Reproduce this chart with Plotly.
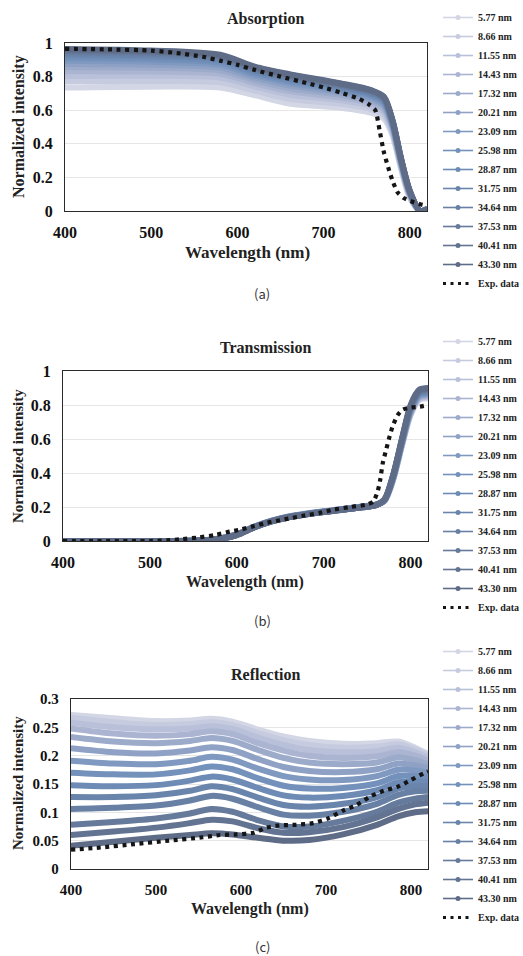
import plotly.graph_objects as go

# ---------------- data ----------------
SERIES = ["5.77 nm", "8.66 nm", "11.55 nm", "14.43 nm", "17.32 nm", "20.21 nm", "23.09 nm",
          "25.98 nm", "28.87 nm", "31.75 nm", "34.64 nm", "37.53 nm", "40.41 nm", "43.30 nm"]
COLORS = ["#d3d6e4", "#c6cbdf", "#b9c0d9", "#abb5d2", "#9dabcb", "#8fa2c5", "#8099c0",
          "#7391bb", "#6d8bb5", "#6a85ac", "#6880a4", "#667a9b", "#637392", "#5f6c87"]

# Absorption
WL_ABS = [400, 500, 580, 620, 660, 720, 755, 770, 780, 790, 800, 812, 820]
ABS = [
    [0.735, 0.740, 0.735, 0.690, 0.640, 0.615, 0.585, 0.550, 0.450, 0.250, 0.080, 0.000, 0.010],
    [0.772, 0.774, 0.766, 0.717, 0.668, 0.638, 0.607, 0.571, 0.464, 0.260, 0.086, 0.000, 0.010],
    [0.804, 0.805, 0.794, 0.741, 0.693, 0.659, 0.626, 0.589, 0.477, 0.268, 0.092, 0.000, 0.010],
    [0.832, 0.830, 0.817, 0.761, 0.714, 0.676, 0.642, 0.605, 0.488, 0.275, 0.097, 0.000, 0.010],
    [0.855, 0.852, 0.836, 0.778, 0.731, 0.690, 0.655, 0.618, 0.497, 0.281, 0.101, 0.000, 0.010],
    [0.875, 0.871, 0.854, 0.794, 0.747, 0.704, 0.667, 0.629, 0.505, 0.287, 0.104, 0.000, 0.010],
    [0.894, 0.888, 0.870, 0.807, 0.761, 0.715, 0.678, 0.640, 0.512, 0.291, 0.108, 0.000, 0.010],
    [0.910, 0.903, 0.883, 0.819, 0.773, 0.725, 0.688, 0.649, 0.518, 0.296, 0.110, 0.000, 0.010],
    [0.924, 0.916, 0.895, 0.829, 0.784, 0.734, 0.696, 0.657, 0.524, 0.299, 0.113, 0.000, 0.010],
    [0.935, 0.927, 0.905, 0.838, 0.792, 0.741, 0.703, 0.663, 0.528, 0.302, 0.115, 0.000, 0.010],
    [0.944, 0.936, 0.913, 0.845, 0.799, 0.747, 0.708, 0.668, 0.532, 0.305, 0.116, 0.000, 0.010],
    [0.952, 0.943, 0.919, 0.851, 0.805, 0.752, 0.713, 0.673, 0.535, 0.307, 0.118, 0.000, 0.010],
    [0.959, 0.950, 0.925, 0.856, 0.811, 0.756, 0.717, 0.677, 0.538, 0.309, 0.119, 0.000, 0.010],
    [0.965, 0.955, 0.930, 0.860, 0.815, 0.760, 0.720, 0.680, 0.540, 0.310, 0.120, 0.000, 0.010],
]
EXP_ABS_WL = [400, 450, 500, 530, 560, 580, 600, 620, 650, 680, 700, 720, 740, 752, 760, 765,
              770, 775, 780, 786, 793, 803, 812, 820]
EXP_ABS = [0.965, 0.962, 0.955, 0.940, 0.918, 0.895, 0.870, 0.840, 0.800, 0.762, 0.735, 0.705,
           0.670, 0.637, 0.600, 0.480, 0.350, 0.260, 0.180, 0.110, 0.077, 0.055, 0.040, 0.030]

# Transmission
WL_TR = [400, 500, 560, 580, 600, 620, 640, 660, 700, 740, 760, 770, 780, 790, 800, 810, 820]
TR = [
    [0, 0, 0.003, 0.015, 0.040, 0.085, 0.120, 0.145, 0.175, 0.200, 0.215, 0.235, 0.360, 0.560, 0.740, 0.830, 0.840],
    [0, 0, 0.003, 0.015, 0.040, 0.085, 0.120, 0.145, 0.175, 0.200, 0.215, 0.236, 0.362, 0.563, 0.745, 0.835, 0.845],
    [0, 0, 0.003, 0.015, 0.039, 0.084, 0.119, 0.144, 0.174, 0.199, 0.214, 0.237, 0.365, 0.566, 0.749, 0.839, 0.849],
    [0, 0, 0.003, 0.014, 0.039, 0.084, 0.119, 0.144, 0.174, 0.199, 0.214, 0.237, 0.367, 0.569, 0.754, 0.844, 0.854],
    [0, 0, 0.003, 0.014, 0.038, 0.083, 0.118, 0.143, 0.173, 0.198, 0.213, 0.238, 0.369, 0.572, 0.758, 0.848, 0.858],
    [0, 0, 0.003, 0.014, 0.038, 0.083, 0.118, 0.143, 0.173, 0.198, 0.213, 0.239, 0.372, 0.575, 0.763, 0.853, 0.863],
    [0, 0, 0.003, 0.014, 0.038, 0.083, 0.118, 0.143, 0.173, 0.198, 0.213, 0.240, 0.374, 0.578, 0.768, 0.858, 0.868],
    [0, 0, 0.003, 0.013, 0.037, 0.082, 0.117, 0.142, 0.172, 0.197, 0.212, 0.240, 0.376, 0.582, 0.772, 0.862, 0.872],
    [0, 0, 0.003, 0.013, 0.037, 0.082, 0.117, 0.142, 0.172, 0.197, 0.212, 0.241, 0.378, 0.585, 0.777, 0.867, 0.877],
    [0, 0, 0.003, 0.013, 0.037, 0.082, 0.117, 0.142, 0.172, 0.197, 0.212, 0.242, 0.381, 0.588, 0.782, 0.872, 0.882],
    [0, 0, 0.003, 0.013, 0.036, 0.081, 0.116, 0.141, 0.171, 0.196, 0.211, 0.243, 0.383, 0.591, 0.786, 0.876, 0.886],
    [0, 0, 0.003, 0.012, 0.036, 0.081, 0.116, 0.141, 0.171, 0.196, 0.211, 0.243, 0.385, 0.594, 0.791, 0.881, 0.891],
    [0, 0, 0.003, 0.012, 0.035, 0.080, 0.115, 0.140, 0.170, 0.195, 0.210, 0.244, 0.388, 0.597, 0.795, 0.885, 0.895],
    [0, 0, 0.003, 0.012, 0.035, 0.080, 0.115, 0.140, 0.170, 0.195, 0.210, 0.245, 0.390, 0.600, 0.800, 0.890, 0.900],
]
EXP_TR_WL = [400, 500, 520, 535, 555, 575, 592, 605, 620, 635, 655, 675, 695, 712, 730, 750,
             757, 762, 765, 768, 772, 775, 779, 785, 791, 800, 810, 820]
EXP_TR = [0.0, 0.0, 0.004, 0.010, 0.020, 0.035, 0.055, 0.068, 0.088, 0.108, 0.127, 0.147, 0.165,
          0.185, 0.200, 0.215, 0.232, 0.290, 0.360, 0.460, 0.540, 0.600, 0.670, 0.740, 0.773,
          0.785, 0.790, 0.800]

# Reflection
WL_REF = [400, 450, 500, 540, 565, 590, 620, 650, 680, 720, 760, 785, 805, 820]
REF = [
    [0.272, 0.266, 0.261, 0.262, 0.265, 0.260, 0.246, 0.234, 0.226, 0.221, 0.222, 0.225, 0.214, 0.203],
    [0.267, 0.259, 0.254, 0.256, 0.259, 0.254, 0.240, 0.227, 0.219, 0.214, 0.216, 0.220, 0.211, 0.200],
    [0.258, 0.250, 0.246, 0.248, 0.252, 0.247, 0.232, 0.219, 0.210, 0.206, 0.208, 0.214, 0.206, 0.196],
    [0.248, 0.239, 0.235, 0.238, 0.243, 0.238, 0.222, 0.209, 0.200, 0.196, 0.199, 0.206, 0.200, 0.191],
    [0.233, 0.225, 0.222, 0.226, 0.231, 0.226, 0.210, 0.196, 0.188, 0.185, 0.188, 0.197, 0.192, 0.185],
    [0.213, 0.206, 0.204, 0.209, 0.215, 0.210, 0.194, 0.180, 0.173, 0.171, 0.176, 0.186, 0.183, 0.178],
    [0.191, 0.186, 0.185, 0.191, 0.198, 0.193, 0.177, 0.164, 0.158, 0.157, 0.164, 0.175, 0.174, 0.170],
    [0.170, 0.167, 0.167, 0.174, 0.181, 0.176, 0.160, 0.147, 0.142, 0.143, 0.151, 0.164, 0.164, 0.162],
    [0.148, 0.146, 0.148, 0.156, 0.163, 0.158, 0.143, 0.130, 0.126, 0.129, 0.139, 0.153, 0.155, 0.154],
    [0.127, 0.127, 0.130, 0.138, 0.146, 0.141, 0.126, 0.113, 0.110, 0.115, 0.127, 0.142, 0.146, 0.146],
    [0.106, 0.108, 0.112, 0.121, 0.129, 0.124, 0.109, 0.096, 0.094, 0.101, 0.115, 0.131, 0.137, 0.138],
    [0.078, 0.083, 0.089, 0.098, 0.106, 0.101, 0.086, 0.075, 0.075, 0.085, 0.101, 0.117, 0.124, 0.127],
    [0.060, 0.066, 0.073, 0.081, 0.087, 0.084, 0.072, 0.064, 0.065, 0.074, 0.091, 0.106, 0.114, 0.117],
    [0.041, 0.048, 0.055, 0.060, 0.063, 0.061, 0.055, 0.050, 0.051, 0.061, 0.078, 0.093, 0.100, 0.102],
]
EXP_REF_WL = [400, 435, 475, 515, 555, 575, 595, 615, 630, 645, 665, 685, 702, 720, 736, 752,
              768, 784, 800, 815, 820]
EXP_REF = [0.034, 0.038, 0.044, 0.050, 0.056, 0.060, 0.061, 0.064, 0.073, 0.077, 0.078, 0.081,
           0.089, 0.103, 0.113, 0.128, 0.138, 0.145, 0.157, 0.169, 0.172]

X_TICKS = [400, 500, 600, 700, 800]
TITLES = ["Absorption", "Transmission", "Reflection"]
PANEL_LABELS = ["(a)", "(b)", "(c)"]

# ---------------- layout geometry (page pixels) ----------------
W, H = 523, 956
SERIF = "Liberation Serif"


def px_x(p):
    return p / W


def px_y(p):
    return 1 - p / H


fig = go.Figure()

panels = [
    dict(wl=WL_ABS, data=ABS, ewl=EXP_ABS_WL, edata=EXP_ABS, xa="x", ya="y", leg="legend"),
    dict(wl=WL_TR, data=TR, ewl=EXP_TR_WL, edata=EXP_TR, xa="x2", ya="y2", leg="legend2"),
    dict(wl=WL_REF, data=REF, ewl=EXP_REF_WL, edata=EXP_REF, xa="x3", ya="y3", leg="legend3"),
]

for p in panels:
    for name, col, vals in zip(SERIES, COLORS, p["data"]):
        fig.add_trace(go.Scatter(
            x=p["wl"], y=vals, mode="lines+markers", name=name,
            line=dict(color=col, width=6, shape="spline", smoothing=0.8),
            marker=dict(color=col, size=5),
            xaxis=p["xa"], yaxis=p["ya"], showlegend=False, hoverinfo="skip"))
    fig.add_trace(go.Scatter(
        x=p["ewl"], y=p["edata"], mode="lines", name="Exp. data",
        line=dict(color="#151515", width=4.2, dash="4px,4.6px", shape="spline", smoothing=0.6),
        xaxis=p["xa"], yaxis=p["ya"], showlegend=False, hoverinfo="skip"))
    # legend entries (thin style like the original legend)
    for name, col in zip(SERIES, COLORS):
        fig.add_trace(go.Scatter(
            x=[None], y=[None], mode="lines+markers", name=name,
            line=dict(color=col, width=1.6), marker=dict(color=col, size=5),
            xaxis=p["xa"], yaxis=p["ya"], legend=p["leg"], showlegend=True))
    fig.add_trace(go.Scatter(
        x=[None], y=[None], mode="lines", name="Exp. data",
        line=dict(color="#151515", width=3.2, dash="3px,4.5px"),
        xaxis=p["xa"], yaxis=p["ya"], legend=p["leg"], showlegend=True))

# axis domains in page pixels: (left, right, top, bottom)
boxes = [(65, 427, 43, 211), (63, 428, 371, 541), (71, 428, 699, 869)]
yranges = [[0, 1], [0, 1], [0, 0.3]]
ydticks = [0.2, 0.2, 0.05]
tick_sizes = [16, 16, 15]

axis_common = dict(showline=True, linecolor="#2a2a2a", linewidth=1.3, mirror=True,
                   zeroline=False, ticks="", color="#111", automargin=False)

layout = dict(width=W, height=H, margin=dict(l=0, r=0, t=0, b=0, autoexpand=False),
              paper_bgcolor="white", plot_bgcolor="white", showlegend=True)

for i, (l, r, t, b) in enumerate(boxes):
    sfx = "" if i == 0 else str(i + 1)
    layout["xaxis" + sfx] = dict(
        domain=[px_x(l), px_x(r)], range=[400, 820], tickvals=X_TICKS,
        showgrid=False, anchor="y" + sfx, ticklabelstandoff=7,
        tickfont=dict(family=SERIF, size=tick_sizes[i], weight=700, color="#111"),
        **axis_common)
    layout["yaxis" + sfx] = dict(
        domain=[px_y(b), px_y(t)], range=yranges[i], dtick=ydticks[i], tick0=0,
        showgrid=True, gridcolor="#e6e6e6", gridwidth=1, anchor="x" + sfx,
        ticklabelstandoff=8,
        tickfont=dict(family=SERIF, size=tick_sizes[i], weight=700, color="#111"),
        **axis_common)

legend_tops = [3, 327, 637]
for i, top in enumerate(legend_tops):
    key = "legend" if i == 0 else "legend" + str(i + 1)
    layout[key] = dict(x=px_x(438), xanchor="left", y=px_y(top), yanchor="top",
                       bgcolor="rgba(0,0,0,0)", borderwidth=0, itemwidth=30,
                       font=dict(family=SERIF, size=10, weight=700, color="#222"),
                       tracegroupgap=0)

ann = []
title_pos = [(265, 19), (265.5, 347), (265, 674)]
xtitle_pos = [(247, 252), (245, 582), (249.5, 909)]
ytitle_pos = [(19, 127), (18, 456), (18, 783)]
ytitle_size = [16, 15, 15]
xtitle_size = [17, 16, 16]
label_pos = [(262, 293), (262, 620), (262, 946)]
for i in range(3):
    ann.append(dict(text=TITLES[i], x=px_x(title_pos[i][0]), y=px_y(title_pos[i][1]),
                    xref="paper", yref="paper", showarrow=False, xanchor="center", yanchor="middle",
                    font=dict(family=SERIF, size=16, weight=700, color="#222")))
    ann.append(dict(text="Wavelength (nm)", x=px_x(xtitle_pos[i][0]), y=px_y(xtitle_pos[i][1]),
                    xref="paper", yref="paper", showarrow=False, xanchor="center", yanchor="middle",
                    font=dict(family=SERIF, size=xtitle_size[i], weight=700, color="#222")))
    ann.append(dict(text="Normalized intensity", x=px_x(ytitle_pos[i][0]), y=px_y(ytitle_pos[i][1]),
                    xref="paper", yref="paper", showarrow=False, xanchor="center", yanchor="middle",
                    textangle=-90,
                    font=dict(family=SERIF, size=ytitle_size[i], weight=700, color="#222")))
    ann.append(dict(text=PANEL_LABELS[i], x=px_x(label_pos[i][0]), y=px_y(label_pos[i][1]),
                    xref="paper", yref="paper", showarrow=False, xanchor="center", yanchor="middle",
                    font=dict(family="Noto Sans CJK KR", size=13, color="#333")))
layout["annotations"] = ann

fig.update_layout(**layout)

# remove the browser's default page margin so the figure fills the window exactly
PAGE_CSS = ("document.documentElement.style.overflow='hidden';"
            "document.body.style.margin='0';document.body.style.overflow='hidden';")
fig.write_html("out.html", post_script=PAGE_CSS, config={"displayModeBar": False})
